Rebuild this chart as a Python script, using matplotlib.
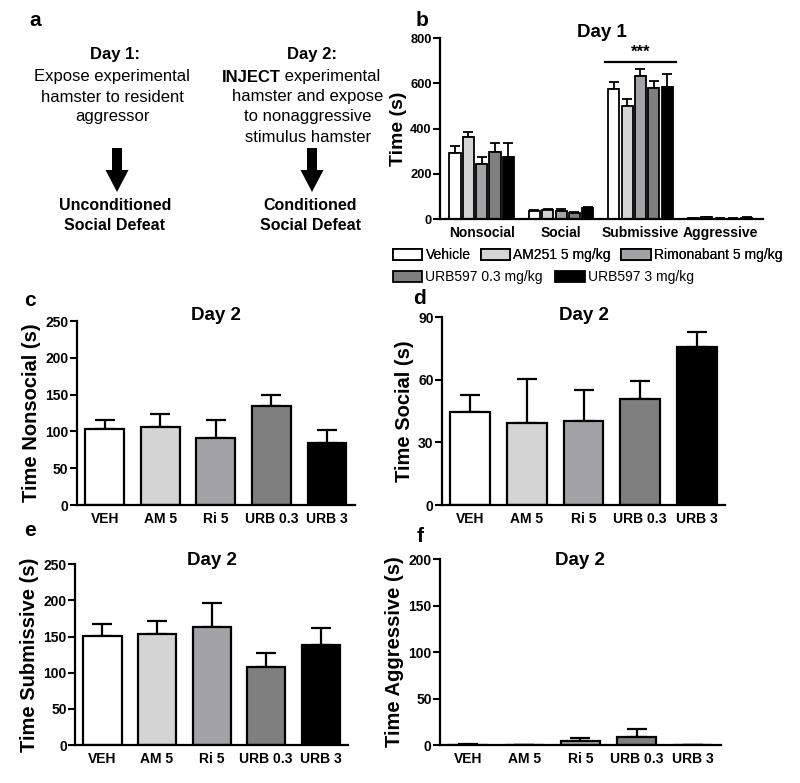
import matplotlib
matplotlib.use("Agg")
import matplotlib.pyplot as plt
import numpy as np
from matplotlib.patches import FancyArrow

plt.rcParams['font.family'] = ['Liberation Sans', 'DejaVu Sans']

# ---------------- data ----------------
day1_categories = ["Nonsocial", "Social", "Submissive", "Aggressive"]
treatments = ["Vehicle", "AM251 5 mg/kg", "Rimonabant 5 mg/kg", "URB597 0.3 mg/kg", "URB597 3 mg/kg"]
colors = ["#ffffff", "#d4d4d4", "#a3a3a7", "#7f7f7f", "#000000"]

day1_vehicle = [291, 35, 574, 4]
day1_vehicle_err = [32, 6, 32, 2]
day1_am251 = [364, 40, 499, 8]
day1_am251_err = [22, 5, 31, 3]
day1_rim = [243, 35, 632, 2]
day1_rim_err = [30, 9, 31, 1]
day1_urb03 = [298, 25, 580, 2]
day1_urb03_err = [36, 5, 31, 1]
day1_urb3 = [273, 47, 582, 6]
day1_urb3_err = [61, 5, 58, 3]

day2_groups = ["VEH", "AM 5", "Ri 5", "URB 0.3", "URB 3"]
nonsocial = [103, 106.5, 91, 134, 84.5]
nonsocial_err = [12, 17.5, 24, 16, 18]
social = [44.6, 39.5, 40.3, 50.8, 75.6]
social_err = [8.3, 20.7, 15.0, 8.6, 7.2]
submissive = [150.8, 154, 163.7, 108, 138.8]
submissive_err = [16, 17.5, 32, 19.6, 23]
aggressive = [0.5, 0.0, 3.9, 8.6, 0.3]
aggressive_err = [0.3, 0.0, 3.6, 8.6, 0.2]

BOLD = 'bold'

fig = plt.figure(figsize=(8.0, 7.83), dpi=100)

# overlay axes in pixel coordinates for panel a text/arrows
ov = fig.add_axes([0, 0, 1, 1], zorder=-1)
ov.set_xlim(0, 800)
ov.set_ylim(783, 0)
ov.axis('off')

def txt(x, y, s, size=12, weight='normal', ha='center'):
    ov.text(x, y, s, fontsize=size, fontweight=weight, ha=ha, va='center')

txt(35, 20, "a", 15, BOLD, 'center')
txt(115, 55, "Day 1:", 12, BOLD)
txt(112, 77, "Expose experimental", 12)
txt(112, 97, "hamster to resident", 12)
txt(112, 117, "aggressor", 12)
txt(115, 205, "Unconditioned", 11.5, BOLD)
txt(115, 225, "Social Defeat", 11.5, BOLD)

txt(312, 55, "Day 2:", 12, BOLD)
txt(281, 77, "INJECT", 12, BOLD, 'right')
txt(280, 77, " experimental", 12, 'normal', 'left')
txt(308, 97, "hamster and expose", 12)
txt(308, 117, "to nonaggressive", 12)
txt(308, 137, "stimulus hamster", 12)
txt(310, 205, "Conditioned", 11.5, BOLD)
txt(310, 225, "Social Defeat", 11.5, BOLD)

for xc in (117, 312):
    ov.add_patch(FancyArrow(xc, 148, 0, 44, width=10, head_width=23, head_length=22,
                            length_includes_head=True, color='black', lw=0))

# panel letters
txt(422, 20, "b", 15, BOLD)
txt(30, 300, "c", 15, BOLD)
txt(420, 298, "d", 15, BOLD)
txt(30, 530, "e", 15, BOLD)
txt(420, 537, "f", 15, BOLD)

def style_axes(ax, ticksize=10):
    for s in ('top', 'right'):
        ax.spines[s].set_visible(False)
    for s in ('left', 'bottom'):
        ax.spines[s].set_linewidth(1.6)
    ax.tick_params(axis='y', direction='out', length=5, width=1.5, labelsize=ticksize, pad=1)
    ax.tick_params(axis='x', length=0, labelsize=10, pad=5)
    for lab in ax.get_xticklabels() + ax.get_yticklabels():
        lab.set_fontweight('bold')

# ---------------- panel b ----------------
axb = fig.add_axes([0.55, 0.7203, 0.404, 0.231])
series = [(day1_vehicle, day1_vehicle_err), (day1_am251, day1_am251_err),
          (day1_rim, day1_rim_err), (day1_urb03, day1_urb03_err), (day1_urb3, day1_urb3_err)]
xg = np.arange(len(day1_categories))
offset = 0.168
handles = []
for i, ((vals, errs), col, name) in enumerate(zip(series, colors, treatments)):
    xp = xg + (i - 2) * offset
    h = axb.bar(xp, vals, width=0.14, color=col, edgecolor='black', linewidth=1.3, label=name, zorder=2)
    axb.errorbar(xp, vals, yerr=[np.zeros(len(vals)), errs], fmt='none', ecolor='black',
                 elinewidth=1.3, capsize=3.5, capthick=1.3, zorder=1)
    handles.append(h)
axb.set_xlim(-0.525, 3.546)
axb.set_ylim(0, 800)
axb.set_yticks([0, 200, 400, 600, 800])
axb.set_xticks(xg)
axb.set_xticklabels(day1_categories)
axb.set_ylabel("Time (s)", fontsize=14, fontweight='bold', labelpad=2)
axb.set_title("Day 1", fontsize=13.5, fontweight='bold', pad=0, y=1.007)
style_axes(axb, ticksize=9.3)
# significance bar over Submissive
axb.plot([2 - 0.45, 2 + 0.45], [695, 695], color='black', lw=1.6, clip_on=False)
axb.text(2, 705, "***", ha='center', va='bottom', fontsize=12, fontweight='bold')

leg_kw = dict(loc='upper left', frameon=False, fontsize=10, handlelength=2.1, handleheight=0.85,
              handletextpad=0.25, borderpad=0, borderaxespad=0)
leg1 = fig.legend(handles[:3], treatments[:3], bbox_to_anchor=(0.491, 0.683),
                  ncol=3, columnspacing=0.75, **leg_kw)
leg2 = fig.legend(handles[3:], treatments[3:], bbox_to_anchor=(0.491, 0.655),
                  ncol=2, columnspacing=0.9, **leg_kw)
fig.add_artist(leg1)

# ---------------- day 2 panels ----------------
def day2_panel(rect, vals, errs, ylim, yticks, ylabel, ty):
    ax = fig.add_axes(rect)
    x = np.arange(len(day2_groups))
    ax.bar(x, vals, width=0.7, color=colors, edgecolor='black', linewidth=1.6, zorder=2)
    ax.errorbar(x, vals, yerr=[np.zeros(len(vals)), errs], fmt='none', ecolor='black',
                elinewidth=1.6, capsize=7, capthick=1.6, zorder=1)
    ax.set_xlim(-0.5, 4.5)
    ax.set_ylim(*ylim)
    ax.set_yticks(yticks)
    ax.set_xticks(x)
    ax.set_xticklabels(day2_groups)
    ax.set_ylabel(ylabel, fontsize=14.5, fontweight='bold', labelpad=3)
    ax.set_title("Day 2", fontsize=13.5, fontweight='bold', pad=0, y=ty)
    style_axes(ax)
    return ax

day2_panel([0.096, 0.355, 0.3475, 0.235], nonsocial, nonsocial_err, (0, 250),
           [0, 50, 100, 150, 200, 250], "Time Nonsocial (s)", 1.007)
day2_panel([0.5525, 0.355, 0.354, 0.240], social, social_err, (0, 90),
           [0, 30, 60, 90], "Time Social (s)", 0.985)
day2_panel([0.094, 0.0485, 0.341, 0.231], submissive, submissive_err, (0, 250),
           [0, 50, 100, 150, 200, 250], "Time Submissive (s)", 0.996)
day2_panel([0.55, 0.0485, 0.351, 0.2375], aggressive, aggressive_err, (0, 200),
           [0, 50, 100, 150, 200], "Time Aggressive (s)", 0.969)

fig.savefig("out.png", dpi=100)
